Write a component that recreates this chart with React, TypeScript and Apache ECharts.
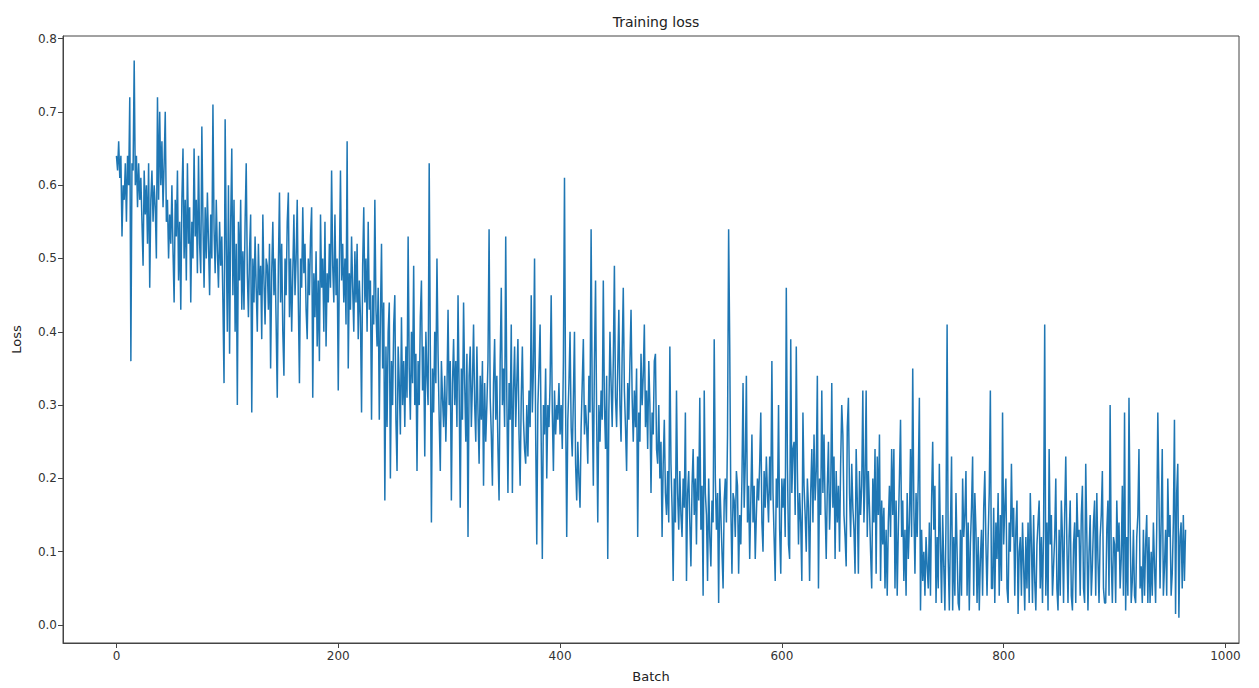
import React, { useEffect, useRef } from "react";
import * as echarts from "echarts";

const chartTitle = "Training loss";
const xAxisName = "Batch";
const yAxisName = "Loss";
const xTickValues = [0, 200, 400, 600, 800, 1000];
const yTickValues = [0, 0.1, 0.2, 0.3, 0.4, 0.5, 0.6, 0.7, 0.8];

// training loss per batch (batch 0 .. 964)
const lossA = [
  .64, .62, .66, .61, .64, .53, .60, .58, .63, .55, .64, .60, .72, .36, .63, .62, .77, .60, .64, .57,
  .63, .58, .61, .55, .49, .62, .56, .60, .52, .63, .46, .58, .62, .55, .60, .57, .50, .72, .58, .70,
  .60, .66, .57, .63, .70, .55, .58, .50, .56, .52, .60, .51, .44, .58, .53, .62, .47, .55, .43, .58,
  .65, .50, .58, .47, .63, .52, .57, .44, .55, .50, .65, .53, .58, .48, .64, .52, .48, .68, .55, .46,
  .57, .50, .59, .52, .45, .56, .50, .71, .54, .48, .58, .51, .46, .55, .49, .53, .44, .33, .69, .52,
  .40, .60, .37, .55, .65, .45, .58, .40, .52, .30, .55, .47, .58, .43, .51, .43, .55, .63, .48, .42,
  .51, .56, .29, .50, .44, .53, .46, .40, .52, .45, .49, .39, .56, .47, .41, .50, .49, .43, .52, .35,
  .48, .55, .45, .50, .41, .31, .49, .59, .44, .52, .40, .34, .50, .45, .55, .59, .42, .50, .40, .48,
  .56, .45, .50, .58, .44, .33, .50, .46, .57, .48, .52, .43, .39, .50, .45, .53, .57, .31, .48, .42,
  .51, .38, .47, .36, .56, .46, .50, .40, .55, .38, .48, .44, .52, .46, .62, .49, .44, .56, .45, .50,
];
const lossB = [
  .32, .49, .62, .47, .52, .44, .50, .41, .66, .35, .48, .43, .53, .46, .40, .51, .44, .52, .39, .47,
  .42, .29, .49, .57, .44, .50, .40, .55, .43, .47, .28, .45, .41, .58, .43, .38, .46, .28, .42, .52,
  .35, .44, .17, .38, .27, .40, .44, .20, .36, .30, .41, .45, .28, .21, .38, .33, .26, .42, .30, .36,
  .27, .38, .31, .53, .35, .28, .40, .33, .49, .30, .37, .21, .36, .30, .42, .47, .32, .38, .23, .40,
  .34, .30, .63, .38, .14, .35, .29, .40, .33, .50, .37, .28, .21, .36, .31, .27, .34, .25, .32, .43,
  .30, .36, .17, .33, .39, .30, .36, .27, .45, .32, .16, .35, .28, .44, .33, .25, .37, .12, .34, .38,
  .27, .33, .41, .30, .25, .38, .29, .22, .34, .28, .36, .19, .33, .25, .30, .36, .54, .31, .26, .19,
  .33, .39, .28, .34, .24, .17, .36, .46, .30, .35, .27, .53, .31, .18, .33, .28, .41, .18, .32, .38,
  .27, .33, .39, .26, .19, .31, .38, .28, .24, .22, .30, .23, .32, .27, .45, .29, .35, .50, .26, .11,
  .30, .35, .41, .25, .09, .30, .26, .35, .20, .30, .27, .33, .45, .29, .21, .32, .26, .30, .28, .33,
];
const lossC = [
  .26, .30, .24, .36, .61, .30, .12, .28, .33, .40, .27, .23, .31, .40, .22, .17, .25, .20, .16, .27,
  .33, .39, .26, .30, .27, .22, .34, .29, .54, .31, .19, .36, .47, .28, .14, .30, .25, .32, .28, .47,
  .30, .24, .34, .09, .29, .40, .33, .27, .36, .49, .31, .27, .35, .43, .30, .25, .37, .46, .32, .27,
  .21, .33, .28, .36, .43, .31, .25, .32, .27, .35, .12, .29, .25, .37, .30, .34, .41, .27, .32, .24,
  .36, .30, .18, .29, .26, .36, .37, .24, .22, .30, .20, .25, .12, .22, .28, .18, .15, .21, .14, .38,
  .22, .16, .06, .20, .14, .32, .18, .13, .21, .15, .12, .20, .16, .29, .06, .18, .21, .14, .08, .19,
  .24, .15, .20, .11, .23, .17, .31, .13, .19, .04, .32, .18, .15, .06, .20, .12, .08, .17, .14, .39,
  .20, .13, .18, .03, .20, .15, .10, .05, .17, .20, .14, .26, .54, .38, .16, .07, .18, .17, .12, .21,
  .19, .07, .15, .11, .20, .33, .16, .22, .34, .14, .19, .09, .17, .26, .14, .19, .09, .15, .20, .17,
  .22, .29, .14, .10, .21, .16, .23, .18, .14, .23, .17, .36, .18, .12, .06, .20, .16, .30, .13, .07,
];
const lossD = [
  .20, .16, .20, .12, .46, .22, .11, .09, .39, .18, .24, .25, .15, .38, .21, .11, .18, .14, .06, .29,
  .19, .15, .10, .20, .16, .06, .18, .24, .14, .26, .17, .21, .34, .05, .20, .15, .32, .18, .26, .16,
  .09, .19, .25, .13, .18, .33, .16, .23, .09, .21, .14, .19, .10, .22, .30, .26, .15, .12, .08, .27,
  .31, .18, .12, .22, .16, .13, .07, .24, .17, .07, .21, .15, .19, .32, .14, .20, .32, .12, .21, .16,
  .10, .05, .20, .14, .24, .07, .23, .15, .26, .06, .17, .11, .16, .05, .13, .04, .14, .19, .12, .24,
  .15, .24, .05, .17, .04, .13, .20, .28, .12, .17, .06, .13, .04, .18, .09, .14, .24, .12, .35, .16,
  .07, .18, .12, .20, .31, .02, .13, .06, .10, .04, .12, .08, .05, .14, .04, .17, .25, .13, .19, .03,
  .12, .05, .22, .11, .03, .15, .08, .02, .14, .41, .09, .02, .13, .23, .02, .12, .04, .18, .10, .03,
  .02, .13, .04, .20, .12, .15, .21, .04, .14, .02, .11, .16, .23, .04, .18, .13, .03, .12, .02, .09,
  .13, .04, .16, .21, .11, .04, .12, .18, .32, .05, .05, .16, .03, .14, .09, .18, .04, .15, .06, .29,
];
const lossE = [
  .11, .16, .20, .05, .03, .14, .10, .22, .12, .16, .04, .13, .17, .015, .10, .12, .04, .14, .08, .02,
  .12, .05, .14, .03, .18, .11, .03, .15, .06, .02, .11, .14, .17, .05, .12, .03, .13, .41, .04, .14,
  .02, .24, .11, .15, .04, .08, .12, .20, .05, .02, .13, .04, .17, .12, .03, .15, .23, .11, .03, .12,
  .17, .04, .02, .11, .14, .03, .18, .12, .13, .04, .15, .19, .05, .03, .22, .12, .02, .10, .15, .04,
  .08, .14, .17, .04, .18, .09, .03, .12, .15, .21, .05, .03, .03, .13, .17, .04, .30, .09, .03, .12,
  .11, .03, .17, .10, .14, .05, .09, .19, .04, .29, .02, .12, .04, .31, .14, .03, .06, .13, .04, .03,
  .12, .15, .24, .05, .08, .03, .13, .04, .11, .15, .03, .12, .03, .10, .04, .14, .08, .03, .13, .29,
  .18, .05, .14, .24, .04, .08, .13, .04, .20, .12, .15, .04, .07, .14, .28, .015, .18, .22, .01, .12,
  .14, .05, .15, .06, .13,
];

const loss = [...lossA, ...lossB, ...lossC, ...lossD, ...lossE];

export default function App() {
  const ref = useRef<HTMLDivElement>(null);
  useEffect(() => {
    document.body.style.margin = "0";
    if (!ref.current) return;
    const chart = echarts.init(ref.current, null, { renderer: "svg" });
    const font = "DejaVu Sans";
    chart.setOption({
      animation: false,
      backgroundColor: "#ffffff",
      textStyle: { fontFamily: font },
      title: {
        text: chartTitle,
        left: 651,
        top: 10,
        textAlign: "center",
        textStyle: { fontFamily: font, fontSize: 14, fontWeight: "normal", color: "#222" },
      },
      grid: {
        left: 63,
        right: 20,
        top: 36,
        bottom: 41,
        show: true,
        borderColor: "#444",
        borderWidth: 1,
        containLabel: false,
      },
      xAxis: {
        type: "value",
        min: -48.2,
        max: 1012.2,
        name: xAxisName,
        nameLocation: "middle",
        nameGap: 27,
        nameTextStyle: { fontFamily: font, fontSize: 13, color: "#222", verticalAlign: "top" },
        axisLine: { show: true, onZero: false, lineStyle: { color: "#444", width: 1 } },
        axisTick: { show: true, length: 5, customValues: xTickValues, lineStyle: { color: "#444" } },
        axisLabel: {
          customValues: xTickValues,
          margin: 7,
          fontFamily: font,
          fontSize: 12,
          color: "#333",
          formatter: (v: number) => String(v),
        },
        splitLine: { show: false },
      },
      yAxis: {
        type: "value",
        min: -0.0245,
        max: 0.8035,
        name: yAxisName,
        nameLocation: "middle",
        nameGap: 40,
        nameRotate: 90,
        nameTextStyle: { fontFamily: font, fontSize: 13, color: "#222" },
        axisLine: { show: true, onZero: false, lineStyle: { color: "#444", width: 1 } },
        axisTick: { show: true, length: 5, customValues: yTickValues, lineStyle: { color: "#444" } },
        axisLabel: {
          customValues: yTickValues,
          margin: 6,
          fontFamily: font,
          fontSize: 12,
          color: "#333",
          formatter: (v: number) => v.toFixed(1),
        },
        splitLine: { show: false },
      },
      series: [
        {
          type: "line",
          data: loss.map((v, i) => [i, v]),
          showSymbol: false,
          symbol: "none",
          lineStyle: { color: "#1f77b4", width: 1.5 },
          emphasis: { disabled: true },
        },
      ],
    });
    return () => chart.dispose();
  }, []);
  return <div ref={ref} style={{ width: 1259, height: 688 }} />;
}
